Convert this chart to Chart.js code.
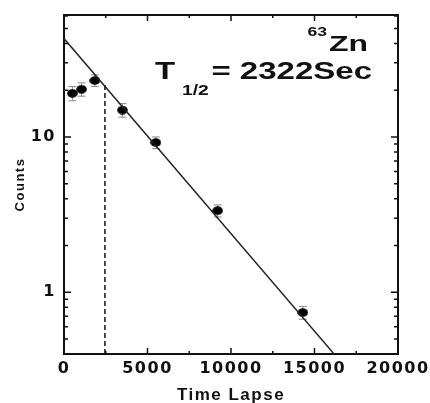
<!DOCTYPE html>
<html lang="en">

<head>
  <meta charset="UTF-8">
  <title>63Zn decay</title>
  <script src="https://cdn.jsdelivr.net/npm/chart.js"></script>
  <style>
    html, body { margin: 0; padding: 0; background: #fff; }
  </style>
</head>

<body>
  <canvas id="decayChart" width="430" height="403"></canvas>

  <script>
    const timeLapse = [500, 1050, 1850, 3500, 5500, 9200, 14300];
    const counts = [19.1, 20.3, 23.1, 14.9, 9.2, 3.35, 0.74];
    const countErr = [2.0, 2.0, 2.0, 1.5, 0.8, 0.3, 0.07];

    // fitted decay line (end points as drawn)
    const fitTime = [0, 16170];
    const fitCounts = [43, 0.4];

    // dashed marker line
    const markTime = [2450, 2450];
    const markCounts = [0.4, 22];

    // axis ticks
    const xMinorTicks = [2500, 7500, 12500, 17500];
    const yTickValues = [0.5, 0.6, 0.7, 0.8, 0.9, 1, 2, 3, 4, 5, 6, 7, 8, 9, 10, 20, 30, 40, 50, 60];
    const yLabelTicks = [1, 10];

    const toPoints = (xs, ys) => xs.map((v, i) => ({ x: v, y: ys[i] }));

    // slightly flattened black dot like the original markers
    const dot = document.createElement('canvas');
    dot.width = 11;
    dot.height = 9;
    const dctx = dot.getContext('2d');
    dctx.fillStyle = '#000';
    dctx.beginPath();
    dctx.ellipse(5.5, 4.5, 5.3, 4.3, 0, 0, Math.PI * 2);
    dctx.fill();

    // a little extra spacing for the axis text
    const spacing = {
      id: 'spacing',
      beforeLayout(chart) { chart.ctx.letterSpacing = '1.5px'; },
      beforeDraw(chart) { chart.ctx.letterSpacing = '1.5px'; }
    };

    const errorBars = {
      id: 'errorBars',
      beforeDatasetsDraw(chart) {
        const { ctx, scales: { x, y } } = chart;
        ctx.save();
        ctx.strokeStyle = '#8a8a8a';
        ctx.lineWidth = 1;
        ctx.beginPath();
        timeLapse.forEach((t, i) => {
          const px = x.getPixelForValue(t);
          const top = y.getPixelForValue(counts[i] + countErr[i]);
          const bot = y.getPixelForValue(counts[i] - countErr[i]);
          ctx.moveTo(px, top); ctx.lineTo(px, bot);
          ctx.moveTo(px - 4, top); ctx.lineTo(px + 4, top);
          ctx.moveTo(px - 4, bot); ctx.lineTo(px + 4, bot);
        });
        ctx.stroke();
        ctx.restore();
      }
    };

    // stretched text like the original figure
    function wideText(ctx, text, px, py, size, align, sx) {
      ctx.save();
      ctx.font = 'bold ' + size + 'px "Liberation Sans", Arial, sans-serif';
      ctx.textAlign = align;
      ctx.textBaseline = 'alphabetic';
      ctx.translate(px, py);
      ctx.scale(sx, 1);
      ctx.fillText(text, 0, 0);
      ctx.restore();
    }

    const frame = {
      id: 'frame',
      afterDraw(chart) {
        const { ctx, chartArea: a, scales: { x, y } } = chart;
        ctx.save();
        ctx.letterSpacing = '0px';
        ctx.strokeStyle = '#111';
        ctx.lineWidth = 2;
        ctx.beginPath();
        ctx.moveTo(a.left - 1, a.top);
        ctx.lineTo(a.right, a.top);
        ctx.lineTo(a.right, a.bottom + 1);
        ctx.stroke();

        // inward ticks on all four sides
        ctx.lineWidth = 1.5;
        ctx.beginPath();
        const xMark = (v, len) => {
          const px = x.getPixelForValue(v);
          ctx.moveTo(px, a.bottom); ctx.lineTo(px, a.bottom - len);
          ctx.moveTo(px, a.top); ctx.lineTo(px, a.top + len);
        };
        x.ticks.forEach(t => xMark(t.value, 6));
        xMinorTicks.forEach(v => xMark(v, 3));
        y.ticks.forEach(t => {
          const py = y.getPixelForValue(t.value);
          const len = yLabelTicks.includes(t.value) ? 7 : 4;
          ctx.moveTo(a.left, py); ctx.lineTo(a.left + len, py);
          ctx.moveTo(a.right, py); ctx.lineTo(a.right - len, py);
        });
        ctx.stroke();

        ctx.fillStyle = '#111';
        wideText(ctx, '63', a.right - 71, a.top + 21, 13, 'right', 1.35);
        wideText(ctx, 'Zn', a.right - 30, a.top + 36, 22, 'right', 1.45);
        wideText(ctx, 'T', a.left + 91, a.top + 64, 24, 'left', 1.375);
        wideText(ctx, '1/2', a.left + 118, a.top + 80, 14, 'left', 1.375);
        wideText(ctx, '= 2322Sec', a.right - 26, a.top + 64, 24, 'right', 1.375);
        ctx.restore();
      }
    };

    const tickFont = { family: '"DejaVu Sans", sans-serif', weight: 'bold', size: 16 };
    const titleFamily = '"Liberation Sans", Arial, sans-serif';

    new Chart(document.getElementById('decayChart'), {
      type: 'scatter',
      data: {
        datasets: [{
          label: 'Fit',
          type: 'line',
          data: toPoints(fitTime, fitCounts),
          showLine: true,
          borderColor: '#222',
          borderWidth: 1.4,
          pointRadius: 0
        }, {
          label: 'Marker',
          type: 'line',
          data: toPoints(markTime, markCounts),
          showLine: true,
          borderColor: '#111',
          borderWidth: 1.5,
          borderDash: [5, 3],
          pointRadius: 0
        }, {
          label: 'Counts',
          data: toPoints(timeLapse, counts),
          pointStyle: dot,
          pointRadius: 5
        }]
      },
      options: {
        responsive: false,
        animation: false,
        layout: { padding: { top: 15, right: 32, left: 0, bottom: 0 } },
        plugins: {
          legend: { display: false },
          tooltip: { enabled: false }
        },
        scales: {
          x: {
            type: 'linear',
            min: 0,
            max: 20000,
            grid: { display: false, drawTicks: false },
            border: { display: true, color: '#111', width: 2 },
            ticks: {
              stepSize: 5000,
              padding: 5,
              color: '#111',
              font: tickFont,
              maxRotation: 0,
              callback: v => String(v)
            },
            title: {
              display: true,
              text: 'Time Lapse',
              color: '#111',
              font: { family: titleFamily, weight: 'bold', size: 17, lineHeight: 0.9 },
              padding: { top: 0, bottom: 0 }
            },
            afterFit(scale) {
              scale.height = 49;
              // let the layout padding decide the side margins
              scale.paddingLeft = 0;
              scale.paddingRight = 0;
            }
          },
          y: {
            type: 'logarithmic',
            min: 0.4,
            max: 61,
            grid: { display: false, drawTicks: false },
            border: { display: true, color: '#111', width: 2 },
            afterBuildTicks(scale) {
              scale.ticks = yTickValues.map(v => ({ value: v }));
            },
            ticks: {
              autoSkip: false,
              padding: 8,
              color: '#111',
              font: tickFont,
              callback: v => (yLabelTicks.includes(v) ? String(v) : '')
            },
            title: {
              display: true,
              text: 'Counts',
              color: '#111',
              font: { family: titleFamily, weight: 'bold', size: 13 },
              padding: { top: 13, bottom: 0 }
            },
            afterFit(scale) {
              scale.width = 64;
              scale.paddingTop = 0;
              scale.paddingBottom = 0;
            }
          }
        }
      },
      plugins: [spacing, errorBars, frame]
    });
  </script>
</body>

</html>
